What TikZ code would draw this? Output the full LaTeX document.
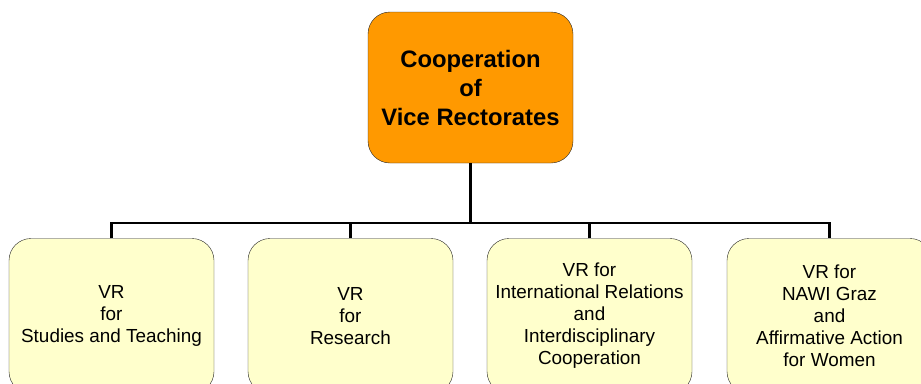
\documentclass[tikz,border=0pt]{standalone}
\usepackage{fontspec}
\setmainfont{Liberation Sans}
\usepackage{tikz}

\definecolor{rectorange}{RGB}{255,153,0}
\definecolor{vryellow}{RGB}{255,255,204}

\begin{document}
\begin{tikzpicture}[x=1pt,y=-1pt]
\tikzstyle{topbox}=[draw=black!85, fill=rectorange, rounded corners=22pt, minimum width=205pt, minimum height=151pt, align=center, inner sep=0pt, font=\bfseries\fontsize{23.8}{29}\selectfont]
\tikzstyle{vrbox}=[draw=black!85, fill=vryellow, rounded corners=22pt, minimum width=205pt, minimum height=155pt, align=center, inner sep=0pt, font=\fontsize{18.9}{22}\selectfont]
\tikzstyle{link}=[line width=2.6pt]
\useasboundingbox (0,0) rectangle (921,383);
\clip (0,0) rectangle (921,383);
% rectorate
\node[topbox] (coop) at (470.5,87.5) {Cooperation\\of\\Vice Rectorates};
% vice rectorates
\node[vrbox] (studies) at (111.5,316) {VR\\for\\Studies and Teaching};
\node[vrbox] (research) at (350.5,316) {VR\\for\\Research};
\node[vrbox] (intl) at (589.5,316) {VR for\\International Relations\\and\\Interdisciplinary\\Cooperation};
\node[vrbox] (nawi) at (829.5,316) {VR for\\NAWI Graz\\and\\Affirmative Action\\for Women};
% connectors
\coordinate (bus) at (470.5,223);
\draw[link] (coop.south) -- (bus);
\draw[link] (studies.north) |- (bus) -| (nawi.north);
\draw[link] (research.north) -- (research.north |- bus);
\draw[link] (intl.north) -- (intl.north |- bus);
\end{tikzpicture}
\end{document}
